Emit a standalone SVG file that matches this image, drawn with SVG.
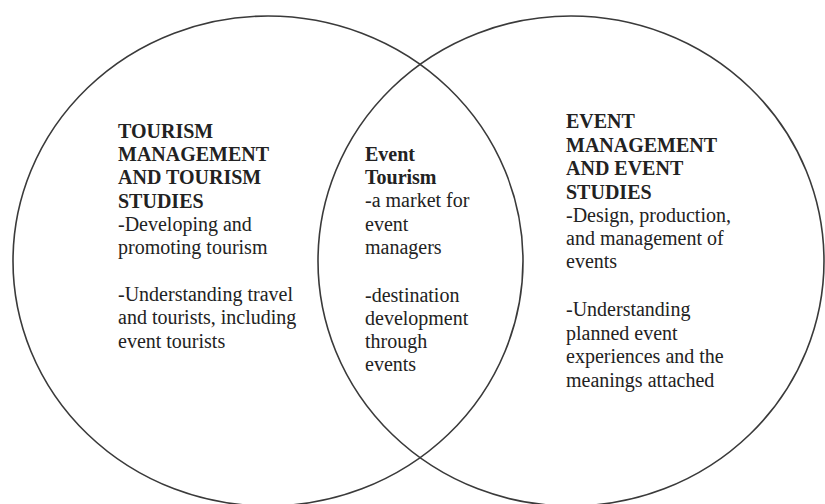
<svg xmlns="http://www.w3.org/2000/svg" width="825" height="504" viewBox="0 0 825 504">
  <style>
    .circle { fill: none; stroke: #3a3a3a; stroke-width: 1.6; }
    text { font-family: "Liberation Serif", "Times New Roman", serif; font-size: 20px; fill: #222; }
    .b { font-weight: bold; }
  </style>
  <rect width="825" height="504" fill="#ffffff"/>
  <g id="tourism">
    <ellipse class="circle" cx="268" cy="261" rx="255" ry="245"/>
    <text x="118">
      <tspan class="b" x="118" y="138">TOURISM</tspan>
      <tspan class="b" x="118" y="161">MANAGEMENT</tspan>
      <tspan class="b" x="118" y="184">AND TOURISM</tspan>
      <tspan class="b" x="118" y="208">STUDIES</tspan>
      <tspan x="118" y="231">-Developing and</tspan>
      <tspan x="118" y="254">promoting tourism</tspan>
      <tspan x="118" y="301">-Understanding travel</tspan>
      <tspan x="118" y="324">and tourists, including</tspan>
      <tspan x="118" y="348">event tourists</tspan>
    </text>
  </g>
  <g id="event-management">
    <ellipse class="circle" cx="571" cy="261" rx="253" ry="245"/>
    <text x="566">
      <tspan class="b" x="566" y="128">EVENT</tspan>
      <tspan class="b" x="566" y="152">MANAGEMENT</tspan>
      <tspan class="b" x="566" y="175">AND EVENT</tspan>
      <tspan class="b" x="566" y="199">STUDIES</tspan>
      <tspan x="566" y="222">-Design, production,</tspan>
      <tspan x="566" y="245">and management of</tspan>
      <tspan x="566" y="268">events</tspan>
      <tspan x="566" y="316">-Understanding</tspan>
      <tspan x="566" y="340">planned event</tspan>
      <tspan x="566" y="363">experiences and the</tspan>
      <tspan x="566" y="387">meanings attached</tspan>
    </text>
  </g>
  <g id="event-tourism">
    <text x="365">
      <tspan class="b" x="365" y="161">Event</tspan>
      <tspan class="b" x="365" y="184">Tourism</tspan>
      <tspan x="365" y="207">-a market for</tspan>
      <tspan x="365" y="231">event</tspan>
      <tspan x="365" y="254">managers</tspan>
      <tspan x="365" y="302">-destination</tspan>
      <tspan x="365" y="325">development</tspan>
      <tspan x="365" y="348">through</tspan>
      <tspan x="365" y="371">events</tspan>
    </text>
  </g>
</svg>
